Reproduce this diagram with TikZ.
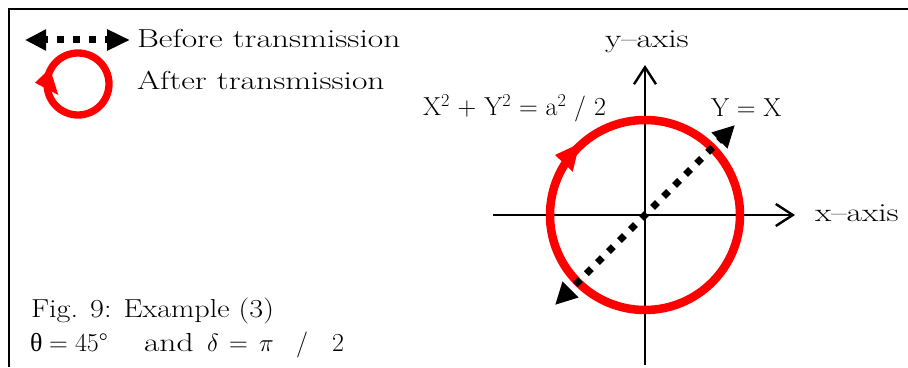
\documentclass[tikz,border=0pt]{standalone}
\usepackage{fontspec}
\newfontfamily\grk{Liberation Serif}
\usetikzlibrary{arrows.meta}
\begin{document}
\begin{tikzpicture}[x=1pt,y=1pt,
  txt/.style={inner sep=0pt, outer sep=0pt, anchor=base west, font=\fontsize{26}{30}\selectfont},
  wide/.style={txt, xscale=1.29, transform shape},
  frameline/.style={line width=2.6pt, black},
  axisline/.style={line width=2.4pt, black, -{Straight Barb[length=17pt,width=22pt]}},
  dotarrow/.style={line width=7pt, dash pattern=on 7pt off 8.6pt, dash phase=7.5pt,
    {Triangle[length=22pt,width=21pt]}-{Triangle[length=22pt,width=21pt]}},
  legdots/.style={line width=7pt, dash pattern=on 7pt off 9pt, dash phase=4pt,
    {Triangle[length=21pt,width=20pt]}-{Triangle[length=23pt,width=20pt]}},
  ring/.style={draw=red, line width=8.5pt},
  legring/.style={draw=red, line width=7.3pt}
]
\fill[white] (0,0) rectangle (908,367);
\useasboundingbox (0,0) rectangle (908,367);

% frame (top and left edges)
\coordinate (fbl) at (9,0);
\coordinate (ftl) at (9,358);
\coordinate (ftr) at (908,358);
\draw[frameline] (fbl) -- (ftl) -- (ftr);

% legend
\coordinate (la) at (25,327);
\coordinate (lb) at (130,327);
\draw[legdots] (la) -- (lb);
\node[wide] (before) at (137,319) {Before transmission};

\coordinate (lc) at (78,283);
\draw[legring] (lc) circle (31);
\coordinate (lt1) at (35,284.3);
\coordinate (lt2) at (50,298.5);
\coordinate (lt3) at (58.3,272);
\fill[red] (lt1) -- (lt2) -- (lt3) -- cycle;
\node[wide] (after) at (137,277) {After transmission};

% axes
\coordinate (O) at (645,152);
\coordinate (xl) at (493,152);
\coordinate (xr) at (795,152);
\coordinate (yb) at (645,2);
\coordinate (yt) at (645,302);
\draw[axisline] (xl) -- (xr);
\draw[axisline] (yb) -- (yt);
\node[wide] (xlab) at (815,145) {x--axis};
\node[wide] (ylab) at (605,319) {y--axis};

% circle after transmission, with its arrowhead (counter-clockwise)
\path[ring] (O) circle (95);
\coordinate (ct1) at (579.5,223.5);
\coordinate (ct2) at (555,212);
\coordinate (ct3) at (572.7,195.3);
\fill[red] (ct1) -- (ct2) -- (ct3) -- cycle;

% line before transmission (Y = X)
\coordinate (d1) at (555,62);
\coordinate (d2) at (735,242);
\draw[dotarrow] (d1) -- (d2);

\node[txt] (eq) at (423,251) {X\textsuperscript{2} + Y\textsuperscript{2} = a\textsuperscript{2} / 2};
\node[txt] (yx) at (711,250) {Y = X};

% caption
\node[txt, xscale=1.16, transform shape] (fig) at (31,49) {Fig. 9: Example (3)};
\node[txt] (th) at (30,16) {{\grk θ}};
\node[txt] (eq1) at (49,16) {=};
\node[txt] (n45) at (75,16) {45°};
\node[wide] (and) at (144,16) {and};
\node[txt] (de) at (207,16) {$\delta$};
\node[txt] (eq2) at (229,16) {=};
\node[txt] (pi) at (259,16) {$\pi$};
\node[txt] (sl) at (296,16) {/};
\node[txt] (two) at (332,16) {2};
\end{tikzpicture}
\end{document}
